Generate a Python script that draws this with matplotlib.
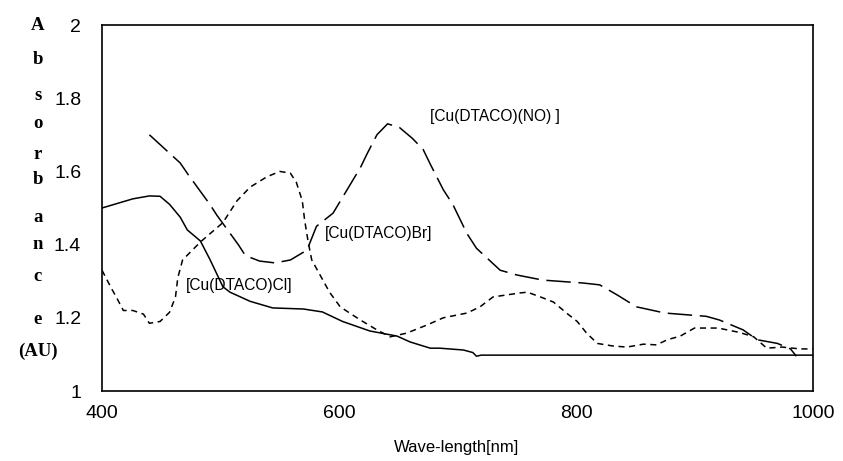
import matplotlib
matplotlib.use("Agg")
import matplotlib.pyplot as plt

# --- data ---
cl_nm = [400, 426, 440, 449, 457, 466, 472, 483, 491, 502, 508, 525, 544, 570, 586,
         603, 626, 649, 660, 677, 685, 705, 713, 716, 720, 800, 900, 1000]
cl_abs = [1.50, 1.525, 1.533, 1.532, 1.51, 1.475, 1.44, 1.41, 1.36, 1.285, 1.27, 1.245,
          1.227, 1.224, 1.216, 1.19, 1.164, 1.15, 1.134, 1.117, 1.117, 1.112, 1.105,
          1.095, 1.098, 1.098, 1.098, 1.098]

br_nm = [400, 408, 412, 418, 426, 435, 440, 449, 457, 462, 464, 468, 483, 502, 514,
         525, 539, 550, 559, 564, 569, 571, 574, 577, 584, 592, 601, 618, 632, 643,
         657, 674, 688, 708, 719, 730, 753, 759, 770, 781, 792, 801, 809, 818, 831,
         843, 857, 868, 877, 888, 900, 920, 938, 950, 961, 974, 989, 1000]
br_abs = [1.33, 1.28, 1.257, 1.22, 1.22, 1.21, 1.185, 1.19, 1.215, 1.257, 1.31, 1.358,
          1.407, 1.46, 1.52, 1.557, 1.585, 1.60, 1.595, 1.57, 1.52, 1.467, 1.407, 1.358,
          1.317, 1.27, 1.23, 1.194, 1.167, 1.148, 1.158, 1.18, 1.20, 1.213, 1.23, 1.257,
          1.268, 1.27, 1.257, 1.243, 1.213, 1.19, 1.158, 1.13, 1.123, 1.12, 1.128, 1.126,
          1.14, 1.15, 1.172, 1.172, 1.16, 1.148, 1.117, 1.12, 1.115, 1.115]

no_nm = [440, 466, 473, 491, 497, 515, 521, 533, 546, 559, 573, 581, 595, 605, 618,
         624, 632, 641, 651, 662, 671, 677, 688, 696, 708, 716, 736, 750, 772, 806,
         820, 835, 851, 875, 910, 921, 941, 953, 970, 981, 986]
no_abs = [1.70, 1.623, 1.59, 1.51, 1.48, 1.40, 1.37, 1.355, 1.35, 1.358, 1.385, 1.45,
          1.486, 1.54, 1.61, 1.65, 1.70, 1.73, 1.72, 1.69, 1.66, 1.62, 1.55, 1.51, 1.43,
          1.39, 1.33, 1.317, 1.303, 1.295, 1.29, 1.262, 1.23, 1.213, 1.204, 1.194, 1.167,
          1.14, 1.13, 1.115, 1.095]

labels = ["[Cu(DTACO)Cl]", "[Cu(DTACO)Br]", "[Cu(DTACO)(NO) ]"]
label_pos = [(471, 1.287), (588, 1.429), (677, 1.749)]

x_ticks = [400, 600, 800, 1000]
y_ticks = [1, 1.2, 1.4, 1.6, 1.8, 2]
y_tick_labels = ["1", "1.2", "1.4", "1.6", "1.8", "2"]

ylabel_chars = ["A", "b", "s", "o", "r", "b", "a", "n", "c", "e", "(AU)"]
ylabel_px = [25, 59, 96, 123, 154, 179, 217, 244, 276, 319, 351]

W, H = 843, 461
fig = plt.figure(figsize=(W / 100, H / 100), dpi=100)
ax = fig.add_axes([102 / W, 1 - 391 / H, (813 - 102) / W, (391 - 25) / H])

ax.plot(cl_nm, cl_abs, color="black", lw=1.1, ls="-")
ax.plot(br_nm, br_abs, color="black", lw=1.1, ls=(0, (4, 3)))
ax.plot(no_nm, no_abs, color="black", lw=1.1, ls=(0, (16, 5)))

for t, (x, y) in zip(labels, label_pos):
    ax.text(x, y, t, fontsize=11.2, family="Liberation Sans", ha="left", va="center")

ax.set_xlim(400, 1000)
ax.set_ylim(1, 2)
ax.set_xticks(x_ticks)
ax.set_xticklabels([str(v) for v in x_ticks], fontsize=14, family="Liberation Sans")
ax.set_yticks(y_ticks)
ax.set_yticklabels(y_tick_labels, fontsize=14, family="Liberation Sans")
ax.tick_params(axis="both", length=0)
ax.tick_params(axis="y", pad=15)
ax.tick_params(axis="x", pad=10)
for s in ax.spines.values():
    s.set_linewidth(1.2)
    s.set_color("black")

fig.text(457 / W, 1 - 447 / H, "Wave-length[nm]", fontsize=12, family="Liberation Sans",
         ha="center", va="center")

for ch, py in zip(ylabel_chars, ylabel_px):
    fig.text(38 / W, 1 - py / H, ch, fontsize=13.5, family="Liberation Serif",
             fontweight="bold", ha="center", va="center")

fig.savefig("out.png", dpi=100)
